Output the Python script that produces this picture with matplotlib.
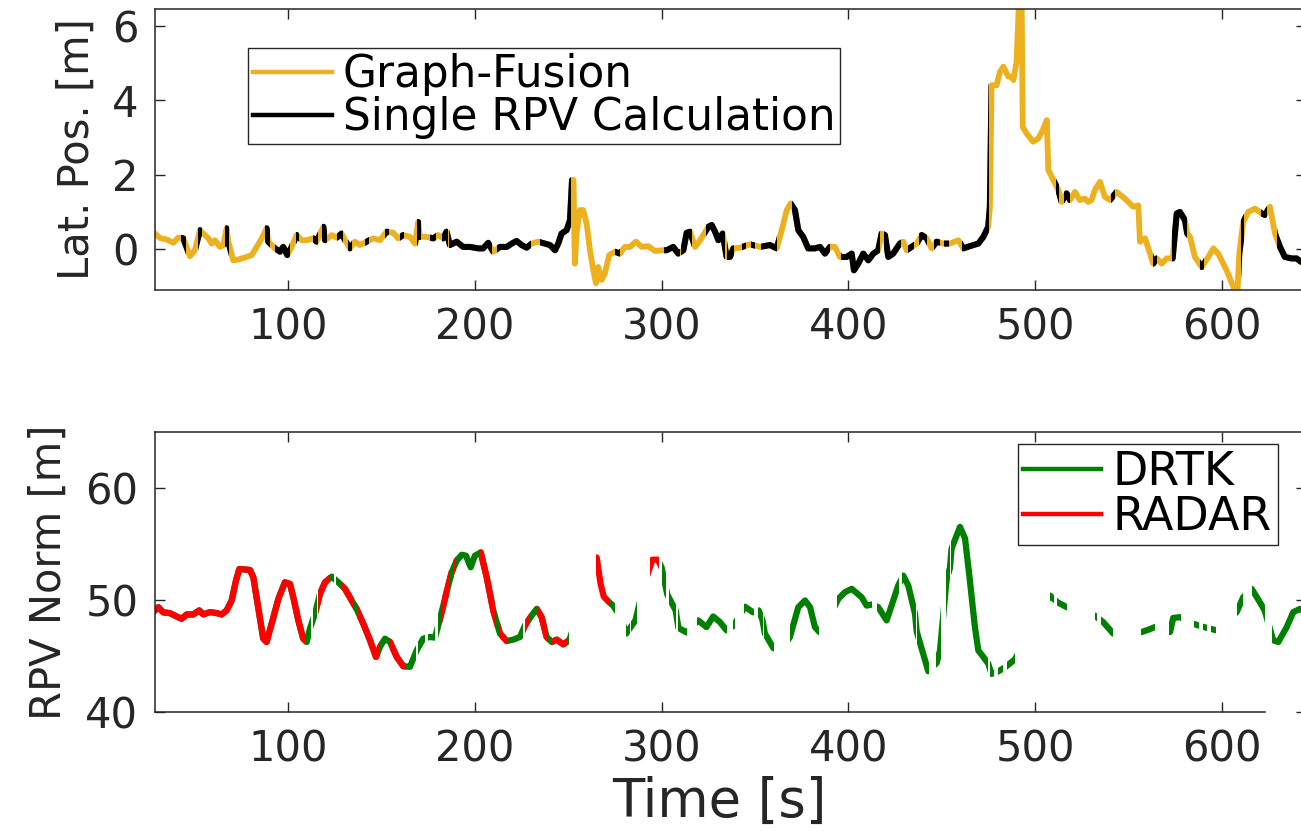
import numpy as np
import matplotlib.pyplot as plt
from matplotlib.lines import Line2D
from matplotlib.path import Path

plt.rcParams['font.family'] = ['DejaVu Sans']

# --- lateral position, Graph-Fusion estimate ---
gf_t = [28.6, 31.3, 34.9, 38.4, 41.1, 43.8, 47.3, 50.0, 52.7, 54.5, 57.2, 59.0, 60.7, 63.4, 65.2,
        67.0, 67.9, 70.5, 73.2, 77.7, 80.4, 83.1, 85.8, 88.4, 89.3, 92.9, 95.6, 97.3, 99.5, 101.8,
        104.5, 107.2, 109.9, 113.4, 115.2, 118.8, 119.7, 123.3, 126.0, 128.6, 130.4, 133.0, 135.7,
        138.4, 142.0, 145.5, 149.1, 152.7, 156.2, 158.9, 161.6, 165.2, 167.9, 169.6, 170.5, 174.1,
        177.7, 180.3, 183.0, 184.8, 186.6, 190.2, 193.7, 197.3, 201.8, 204.4, 207.1, 209.8, 213.4,
        217.0, 219.7, 222.3, 225.0, 227.7, 230.4, 233.9, 237.5, 240.2, 242.9, 244.6, 246.4, 249.1,
        250.9, 252.0, 252.8, 253.5, 254.4, 256.2, 258.0, 259.8, 261.6, 263.4, 264.8, 266.0, 267.9,
        269.6, 271.9, 275.0, 277.7, 280.3, 283.0, 286.2, 289.3, 292.8, 296.4, 300.0, 302.7, 306.2,
        308.9, 311.6, 313.4, 315.2, 317.9, 320.6, 325.0, 326.8, 328.6, 330.4, 332.7, 334.8, 336.6,
        338.4, 342.0, 347.3, 352.7, 358.0, 361.6, 364.3, 367.0, 369.1, 371.4, 373.2, 375.8, 378.5,
        382.1, 384.8, 387.5, 390.1, 392.8, 395.5, 399.1, 401.8, 403.0, 405.3, 408.0, 410.7, 413.4,
        416.0, 417.8, 419.6, 421.4, 424.0, 427.6, 429.4, 431.2, 433.9, 436.6, 439.3, 442.0, 444.6,
        447.3, 450.9, 454.4, 458.9, 461.6, 465.1, 469.6, 472.3, 474.9, 475.8, 476.7, 479.4, 481.2,
        483.0, 485.7, 487.5, 488.4, 490.1, 491.5, 492.8, 493.4, 495.5, 499.0, 501.8, 504.1, 506.3,
        507.1, 509.8, 512.5, 514.2, 516.9, 518.7, 521.4, 524.0, 526.7, 528.5, 530.3, 532.0, 534.8,
        537.4, 540.1, 543.7, 548.1, 552.6, 555.3, 556.2, 558.9, 561.6, 563.3, 565.2, 567.8, 570.5,
        573.7, 575.9, 577.6, 580.3, 581.5, 583.0, 585.6, 589.3, 592.8, 595.5, 598.1, 602.6, 606.2,
        608.3, 609.4, 611.5, 614.2, 617.8, 621.4, 623.1, 625.8, 628.5, 631.2, 633.8, 637.4, 640.1,
        642.4, 645.5]
gf_lat = [0.42, 0.30, 0.26, 0.17, 0.31, 0.29, -0.19, -0.03, 0.51, 0.42, 0.29, 0.15, 0.24, 0.06, 0.11,
          0.56, 0.20, -0.30, -0.28, -0.21, -0.16, 0.06, 0.29, 0.56, 0.20, 0.02, -0.07, 0.06, -0.16, 0.06,
          0.38, 0.24, 0.24, 0.29, 0.20, 0.60, 0.24, 0.38, 0.31, 0.42, 0.24, 0.02, 0.20,
          0.11, 0.20, 0.29, 0.24, 0.47, 0.44, 0.29, 0.38, 0.33, 0.15, 0.73, 0.33, 0.33,
          0.29, 0.38, 0.29, 0.47, 0.11, 0.20, 0.06, 0.06, 0.02, 0.02, 0.17, -0.07, 0.06,
          0.06, 0.15, 0.22, 0.11, 0.04, 0.15, 0.20, 0.15, 0.11, -0.03, 0.15, 0.42, 0.51,
          0.78, 1.86, 1.86, -0.39, 0.42, 1.05, 1.05, 0.69, -0.03, -0.57, -0.92, -0.48, -0.83,
          -0.65, -0.16, -0.07, -0.12, 0.06, 0.06, 0.20, 0.06, 0.08, -0.05, -0.03, -0.03, 0.06,
          -0.12, -0.03, 0.44, 0.47, 0.06, 0.24, 0.60, 0.65, 0.47, 0.24, 0.42, -0.21, -0.21,
          0.02, 0.04, 0.13, 0.06, 0.11, 0.02, 0.51, 1.05, 1.23, 1.05, 0.51, 0.33, 0.02,
          0.02, 0.06, -0.12, 0.06, 0.06, -0.21, -0.21, -0.12, -0.57, -0.39, -0.12, -0.30, -0.12,
          -0.03, 0.42, 0.38, -0.21, -0.12, 0.15, 0.20, -0.03, 0.06, 0.15, 0.38, 0.29, 0.02,
          0.20, 0.15, 0.15, 0.24, 0.02, 0.08, 0.15, 0.33, 0.60, 1.14, 4.41, 4.41, 4.77,
          4.91, 4.64, 4.64, 4.55, 5.04, 6.80, 6.80, 3.29, 3.11, 2.89, 2.98, 3.20, 3.47,
          2.13, 1.86, 1.59, 1.27, 1.50, 1.32, 1.54, 1.32, 1.36, 1.27, 1.32, 1.59, 1.81,
          1.41, 1.32, 1.54, 1.36, 1.14, 1.18, 0.20, 0.29, -0.12, -0.39, -0.25, -0.39, -0.25,
          -0.25, 0.96, 1.00, 0.78, 0.42, 0.33, -0.21, -0.48, -0.21, 0.02, -0.12, -0.57, -1.01,
          -1.25, -0.12, 0.73, 1.00, 1.09, 0.96, 0.92, 1.14, 0.42, 0.06, -0.21, -0.25, -0.25,
          -0.34, -0.30]
# time spans where a single RPV calculation was available
single_rpv_spans = [(42.5, 45), (51.5, 54), (66, 68.5), (87.5, 90), (93, 101), (104, 105.5),
                    (113, 116), (118, 120.5), (126, 129.5), (132, 134), (141, 143), (152, 154),
                    (160, 162), (169, 171), (176, 179), (182.5, 185.5), (186, 209), (212, 230),
                    (235, 251.2), (275, 277.5), (301, 310), (310.5, 316), (323.5, 334),
                    (335, 338.5), (343, 345), (348, 350), (353, 362), (370, 390), (396, 417),
                    (419, 428), (432, 435), (438, 442), (446, 449), (451, 454), (461, 475.5),
                    (511, 513), (515.5, 518.5), (540.5, 543), (563, 565.5), (573.5, 581.5),
                    (588.5, 590.5), (610.5, 612), (621, 624), (629.5, 646)]

# --- RPV norm over time ---
rpv_t = [28.6, 30.4, 33.0, 36.6, 40.2, 42.9, 45.6, 49.1, 52.3, 54.5, 58.1, 61.7, 64.3, 67.0, 69.7,
         72.0, 73.8, 79.5, 81.3, 83.9, 86.6, 88.4, 91.1, 94.7, 98.2, 100.9, 102.7, 105.4, 108.0,
         109.9, 111.6, 114.3, 117.0, 119.7, 123.3, 126.8, 130.4, 133.0, 136.6, 140.2, 143.8, 147.0,
         149.1, 151.8, 154.5, 158.1, 161.6, 165.2, 168.8, 172.3, 175.9, 178.6, 181.3, 183.9, 187.5,
         190.2, 192.9, 195.2, 197.7, 200.0, 203.1, 206.3, 209.8, 213.4, 217.0, 220.5, 224.1, 226.8,
         230.4, 233.1, 235.7, 238.4, 241.1, 243.8, 247.3, 250.5, 265.2, 267.3, 269.0, 271.9, 274.0,
         278.0, 281.0, 286.0, 290.0, 295.0, 298.0, 300.0, 303.0, 307.5, 309.0, 313.5, 316.0, 319.6,
         324.0, 327.6, 331.2, 334.8, 338.5, 344.6, 349.0, 352.0, 354.0, 355.3, 359.9, 364.0, 368.7,
         373.2, 376.8, 379.5, 382.1, 384.5, 390.0, 394.6, 398.2, 401.8, 407.1, 409.8, 412.5, 416.0,
         420.5, 426.7, 429.4, 432.1, 435.7, 436.6, 442.8, 447.3, 449.1, 452.6, 454.4, 455.3, 459.8,
         462.5, 465.1, 467.8, 469.6, 472.3, 474.9, 476.7, 480.0, 484.0, 489.2, 508.0, 512.0, 517.0,
         532.0, 536.5, 541.9, 557.0, 560.0, 564.2, 572.3, 574.0, 577.6, 584.7, 590.0, 597.3, 608.0,
         611.5, 616.0, 619.0, 623.0, 627.6, 630.3, 634.8, 638.3, 641.9, 645.5]
rpv_norm = [49.07, 49.36, 48.90, 48.83, 48.53, 48.33, 48.71, 48.71, 49.07, 48.71, 48.92, 48.83, 48.71,
            49.07, 49.96, 51.73, 52.77, 52.68, 52.03, 49.36, 46.55, 46.25, 47.88, 50.10, 51.58, 51.44,
            50.25, 48.18, 46.55, 46.25, 47.44, 48.77, 50.55, 51.58, 52.09, 51.58, 50.99, 50.25, 49.21,
            47.88, 46.40, 44.92, 45.80, 46.55, 46.25, 44.92, 44.09, 44.03, 45.51, 46.55, 46.70, 46.64,
            48.33, 50.10, 52.47, 53.51, 54.04, 53.96, 52.92, 53.96, 54.25, 52.03, 49.07, 47.00, 46.34,
            46.46, 46.70, 47.73, 48.62, 49.21, 48.47, 46.70, 46.25, 46.46, 46.04, 46.40, 53.80, 51.44,
            50.30, 49.80, 49.50, 48.50, 47.00, 48.20, 51.00, 53.60, 53.60, 52.90, 50.50, 49.07, 47.50,
            47.10, 47.60, 48.18, 47.58, 48.53, 48.03, 47.29, 47.70, 49.40, 48.90, 49.07, 48.20, 47.00,
            45.70, 45.50, 46.70, 49.36, 49.96, 49.36, 47.58, 47.14, 48.50, 50.10, 50.70, 51.00, 50.25,
            49.50, 49.60, 49.36, 48.18, 51.29, 52.18, 51.29, 48.77, 47.20, 43.64, 44.38, 45.50, 51.80,
            52.85, 54.60, 56.53, 55.50, 51.73, 47.58, 45.50, 44.92, 44.33, 43.40, 43.60, 44.00, 44.70,
            50.40, 49.80, 49.36, 48.60, 48.03, 47.00, 47.14, 47.30, 47.58, 47.14, 48.40, 48.47, 47.88,
            47.60, 47.29, 48.92, 50.25, 51.00, 50.20, 49.07, 46.40, 46.25, 47.58, 48.92, 49.20, 49.00]
# time spans where each source was drawn
drtk_spans = [(28, 112), (113, 115.5), (116, 124.5), (125.5, 168.5), (169.5, 173.5), (175, 178.6),
              (180, 225.5), (227, 250.5), (272, 275), (281, 283), (283.5, 287), (300, 302.5),
              (304, 307.5), (308.5, 313.5), (319, 335), (338, 339.5), (344, 349.5), (351.5, 354.5),
              (355, 360), (368.5, 384.5), (394, 412.5), (415.5, 427), (429, 436), (436.6, 443),
              (447, 449.5), (452.5, 454.5), (455, 475), (476, 478), (480, 483), (485, 489.5),
              (508, 510), (512, 517), (532, 533), (535.5, 542), (557, 564.5), (572, 578), (585, 588),
              (590, 592), (594, 597), (608, 611.5), (616, 623), (627, 646)]
radar_spans = [(28, 109), (116, 122), (128, 135), (137, 149), (154.5, 163), (182.6, 186),
               (188, 190), (202, 211), (213.4, 217), (227, 229), (233, 238.4), (241, 249.5),
               (265, 272), (294, 298.5)]

xticks = [100, 200, 300, 400, 500, 600]
lat_ticks = [0, 2, 4, 6]
norm_ticks = [40, 50, 60]

YELLOW = '#EDB120'
AXC = '#262626'


def span_path(spans, lo, hi):
    rects = [Path([(a, lo), (b, lo), (b, hi), (a, hi), (a, lo)], closed=True) for a, b in spans]
    return Path.make_compound_path(*rects)


def style(ax, yticks):
    ax.set_xlim(28.6, 645.1)
    ax.set_xticks(xticks)
    ax.set_yticks(yticks)
    ax.tick_params(direction='in', length=7, width=1, top=True, right=True,
                   labelsize=30, colors=AXC, pad=12)
    for s in ax.spines.values():
        s.set_color(AXC)
        s.set_linewidth(1.1)


fig = plt.figure(figsize=(13.01, 8.31), dpi=100)
ax1 = fig.add_axes([0.1191, 0.6510, 0.8847, 0.3381])
ax2 = fig.add_axes([0.1191, 0.1432, 0.8847, 0.3369])

# top: lateral position
ax1.plot(gf_t, gf_lat, color=YELLOW, lw=4.2, solid_joinstyle='round')
blk, = ax1.plot(gf_t, gf_lat, color='black', lw=4.4, solid_joinstyle='round')
blk.set_clip_path(span_path(single_rpv_spans, -50, 50), ax1.transData)
style(ax1, lat_ticks)
ax1.set_ylim(-1.1, 6.46)
ax1.set_ylabel('Lat. Pos. [m]', fontsize=30, color=AXC)
ax1.yaxis.set_label_coords(-0.05, 0.5)
h1 = [Line2D([], [], color=YELLOW, lw=3.2), Line2D([], [], color='black', lw=3.2)]
leg1 = ax1.legend(h1, ['Graph-Fusion', 'Single RPV Calculation'], loc='upper left',
                  bbox_to_anchor=(0.0805, 0.862), fontsize=31.5, fancybox=False, framealpha=1,
                  edgecolor=AXC, borderpad=0.12, labelspacing=0.0, handlelength=1.8,
                  handletextpad=0.25, borderaxespad=0)
leg1.get_frame().set_linewidth(1)

# bottom: RPV norm
grn, = ax2.plot(rpv_t, rpv_norm, color='#008000', lw=4.5, solid_joinstyle='round')
grn.set_clip_path(span_path(drtk_spans, 0, 100), ax2.transData)
red, = ax2.plot(rpv_t, rpv_norm, color='red', lw=4.5, solid_joinstyle='round')
red.set_clip_path(span_path(radar_spans, 0, 100), ax2.transData)
style(ax2, norm_ticks)
ax2.set_ylim(40, 65)
ax2.spines['bottom'].set_bounds(28.6, 623)
ax2.set_ylabel('RPV Norm [m]', fontsize=30, color=AXC)
ax2.yaxis.set_label_coords(-0.074, 0.5)
ax2.set_xlabel('Time [s]', fontsize=38, color=AXC)
ax2.xaxis.set_label_coords(0.49, -0.23)
h2 = [Line2D([], [], color='#008000', lw=3.2), Line2D([], [], color='red', lw=3.2)]
leg2 = ax2.legend(h2, ['DRTK', 'RADAR'], loc='upper left', bbox_to_anchor=(0.7498, 0.957),
                  fontsize=33, fancybox=False, framealpha=1, edgecolor=AXC, borderpad=0.12,
                  labelspacing=0.0, handlelength=1.7, handletextpad=0.25, borderaxespad=0)
leg2.get_frame().set_linewidth(1)

fig.savefig('out.png', dpi=100)
